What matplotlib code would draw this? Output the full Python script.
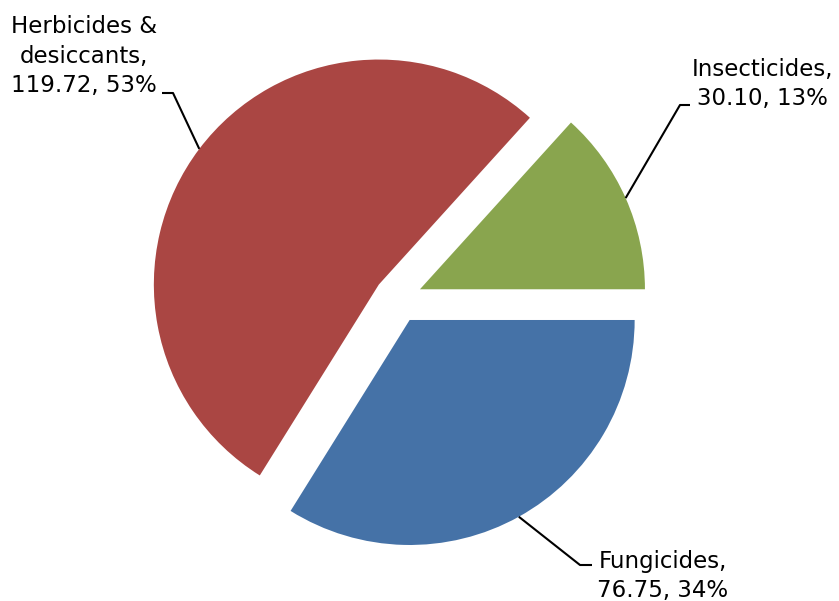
import numpy as np
import matplotlib
matplotlib.use('Agg')
import matplotlib.pyplot as plt

# data
categories = ['Insecticides', 'Herbicides &\ndesiccants', 'Fungicides']
values = [30.10, 119.72, 76.75]
colors = ['#89A54E', '#AA4643', '#4572A7']

W, H = 839, 601
fig = plt.figure(figsize=(W / 100, H / 100), dpi=100)
ax = fig.add_axes([0, 0, 1, 1])

R = 225
center = (398, H - 299)
explode_px = 24  # pie offsets wedges in data units, not radius fractions

wedges, _ = ax.pie(values, explode=[explode_px] * 3, radius=R, center=center,
                   startangle=0, counterclock=True, colors=colors,
                   wedgeprops=dict(linewidth=0))
ax.set_xlim(0, W)
ax.set_ylim(0, H)
ax.set_aspect('equal')
ax.axis('off')

total = sum(values)
# label layout in screen pixels: (text x, last baseline y, elbow, line end)
layout = [
    dict(tx=762, ty=105, elbow=(680, 105), end=(690, 105)),
    dict(tx=84, ty=92, elbow=(173, 93), end=(162, 93)),
    dict(tx=663, ty=597, elbow=(580, 565), end=(592, 565)),
]

for w, name, val, lay in zip(wedges, categories, values, layout):
    mid = np.deg2rad((w.theta1 + w.theta2) / 2)
    cx, cy = w.center
    arc_pt = (cx + R * np.cos(mid), cy + R * np.sin(mid))
    ex, ey = lay['elbow']
    hx, hy = lay['end']
    ax.plot([arc_pt[0], ex, hx], [arc_pt[1], H - ey, H - hy],
            color='black', linewidth=1.5, solid_capstyle='butt')
    txt = f"{name},\n{val:.2f}, {val / total * 100:.0f}%"
    ax.text(lay['tx'], H - lay['ty'], txt, ha='center', va='baseline',
            multialignment='center', fontsize=16.5, family='DejaVu Sans',
            linespacing=1.35, color='black')

plt.savefig('out.png', dpi=100)
plt.close()
